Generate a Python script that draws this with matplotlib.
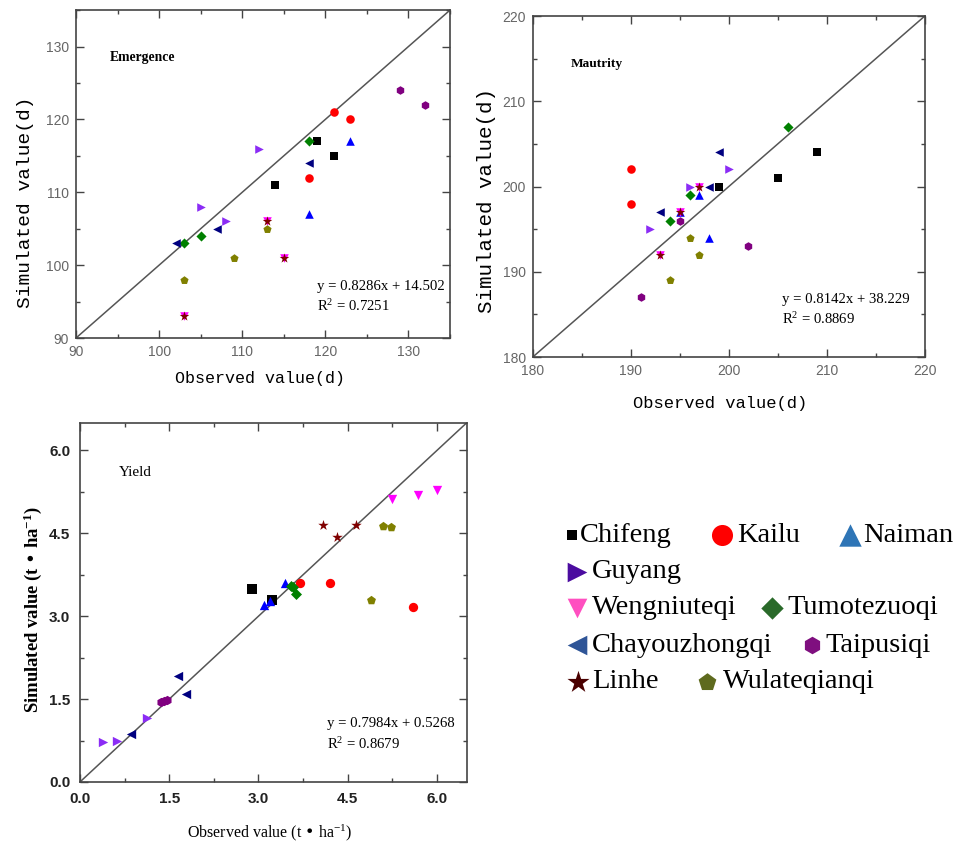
import matplotlib
matplotlib.use("Agg")
import matplotlib.pyplot as plt
from matplotlib.ticker import MultipleLocator, FormatStrFormatter

plt.rcParams['mathtext.default'] = 'regular'

sites = ['Chifeng', 'Kailu', 'Naiman', 'Guyang', 'Wengniuteqi', 'Tumotezuoqi',
         'Chayouzhongqi', 'Taipusiqi', 'Linhe', 'Wulateqianqi']
markers = ['s', 'o', '^', '>', 'v', 'D', '<', 'h', '*', 'p']
colors = ['#000000', '#ff0000', '#0000ff', '#8b2cf5', '#ff00ff', '#008000',
          '#000080', '#800080', '#800000', '#808000']
leg_colors = ['#000000', '#ff0000', '#2e75b6', '#4b0ca0', '#ff4fc0', '#2a6a2a',
              '#2f5597', '#7f0f7f', '#4a0000', '#5e6a1e']

# emergence (d)
emer_obs = [[114, 119, 121], [121, 123, 118], [123, 118], [112, 105, 108],
            [103, 113, 115], [103, 105, 118], [102, 107, 118], [129, 132],
            [103, 113, 115], [103, 109, 113]]
emer_sim = [[111, 117, 115], [121, 120, 112], [117, 107], [116, 108, 106],
            [93, 106, 101], [103, 104, 117], [103, 105, 114], [124, 122],
            [93, 106, 101], [98, 101, 105]]

# maturity (d)
mat_obs = [[199, 205, 209], [190, 190], [197, 198, 195], [192, 196, 200],
           [195, 197, 193], [206, 196, 194], [199, 198, 193], [195, 202, 191],
           [195, 197, 193], [196, 197, 194]]
mat_sim = [[200, 201, 204], [202, 198], [199, 194, 197], [195, 200, 202],
           [197, 200, 192], [207, 199, 196], [204, 200, 197], [196, 193, 187],
           [197, 200, 192], [194, 192, 189]]

# yield (t/ha)
yld_obs = [[2.9, 3.22], [3.7, 4.2, 5.6], [3.1, 3.2, 3.44], [0.38, 0.62, 1.13],
           [5.24, 5.69, 6.0], [3.55, 3.63, 3.58], [1.65, 1.78, 0.86],
           [1.37, 1.46, 1.41], [4.09, 4.32, 4.64], [5.09, 5.23, 4.89]]
yld_sim = [[3.5, 3.3], [3.6, 3.6, 3.17], [3.2, 3.27, 3.6], [0.72, 0.74, 1.15],
           [5.13, 5.2, 5.28], [3.55, 3.4, 3.52], [1.91, 1.6, 0.86],
           [1.44, 1.48, 1.46], [4.66, 4.43, 4.66], [4.64, 4.61, 3.3]]

eqs = ['y = 0.8286x + 14.502\nR$^2$ = 0.7251',
       'y = 0.8142x + 38.229\nR$^2$ = 0.8869',
       'y = 0.7984x + 0.5268\nR$^2$ = 0.8679']

fig = plt.figure(figsize=(9.74, 8.43), dpi=100)


def panel(rect, obs, sim, lim, major, tickcol, ticksize, msize, pad, fmt=None, tw='normal'):
    ax = fig.add_axes(rect)
    for i in range(len(sites)):
        s = msize * 0.7 if markers[i] == 'D' else (msize * 1.4 if markers[i] == '*' else msize)
        ax.scatter(obs[i], sim[i], marker=markers[i], color=colors[i], s=s,
                   linewidths=0, zorder=3)
    ax.plot(lim, lim, color='#555555', lw=1.1, zorder=2)
    ax.set_xlim(lim)
    ax.set_ylim(lim)
    ax.xaxis.set_major_locator(MultipleLocator(major))
    ax.yaxis.set_major_locator(MultipleLocator(major))
    ax.xaxis.set_minor_locator(MultipleLocator(major / 2))
    ax.yaxis.set_minor_locator(MultipleLocator(major / 2))
    ax.tick_params(which='both', direction='in', top=True, right=True,
                   colors='#444444', labelcolor=tickcol, labelsize=ticksize)
    ax.tick_params(which='major', length=6, width=1, pad=pad)
    ax.tick_params(which='minor', length=3, width=1)
    if fmt:
        ax.xaxis.set_major_formatter(fmt)
        ax.yaxis.set_major_formatter(fmt)
    for lab in ax.get_xticklabels() + ax.get_yticklabels():
        lab.set_family('Liberation Sans')
        lab.set_fontweight(tw)
    for sp in ax.spines.values():
        sp.set_color('#444444')
        sp.set_linewidth(1.2)
    return ax


def labels(ax, xl, yl, xpos, ypos, family, xsize, ysize, weight='normal'):
    ax.set_xlabel(xl, family=family, fontsize=xsize)
    ax.set_ylabel(yl, family=family, fontsize=ysize, fontweight=weight)
    ax.xaxis.set_label_coords(*xpos)
    ax.yaxis.set_label_coords(*ypos)
    ax.xaxis.label.set_va('center')
    ax.yaxis.label.set_va('center')


def notes(ax, title, tpos, tweight, tsize, eq, epos):
    ax.text(tpos[0], tpos[1], title, transform=ax.transAxes, family='Liberation Serif',
            fontsize=tsize, fontweight=tweight, va='center')
    ax.text(epos[0], epos[1], eq, transform=ax.transAxes, family='Liberation Serif',
            fontsize=10.6, va='center', linespacing=1.45)


ax1 = panel([0.078, 0.599, 0.384, 0.389], emer_obs, emer_sim, [90, 135], 10,
            '#666666', 10, 38, 5)
labels(ax1, 'Observed value(d)', 'Simulated value(d)', (0.492, -0.122),
       (-0.136, 0.415), 'Liberation Mono', 12, 14)
notes(ax1, 'Emergence', (0.09, 0.857), 'bold', 9.8, eqs[0], (0.644, 0.125))

ax2 = panel([0.547, 0.5765, 0.4025, 0.4045], mat_obs, mat_sim, [180, 220], 10,
            '#666666', 10, 38, 5)
labels(ax2, 'Observed value(d)', 'Simulated value(d)', (0.477, -0.135),
       (-0.117, 0.46), 'Liberation Mono', 12.3, 15)
notes(ax2, 'Mautrity', (0.097, 0.86), 'bold', 9.6, eqs[1], (0.635, 0.138))

ax3 = panel([0.0821, 0.0724, 0.397, 0.426], yld_obs, yld_sim, [0, 6.5], 1.5,
            '#222222', 11, 45, 7, fmt=FormatStrFormatter('%.1f'), tw='bold')
labels(ax3, 'Observed value (t • ha$^{-1}$)', 'Simulated value (t • ha$^{-1}$)',
       (0.49, -0.142), (-0.121, 0.479), 'Liberation Serif', 11.5, 13.4, 'bold')
notes(ax3, 'Yield', (0.10, 0.863), 'normal', 11, eqs[2], (0.638, 0.132))

# legend drawn in pixel coordinates
leg = fig.add_axes([0, 0, 1, 1])
leg.set_xlim(0, 974)
leg.set_ylim(843, 0)
leg.axis('off')
leg_pos = [(572, 535), (722, 535), (850, 535), (577, 572), (577, 608), (772, 608),
           (577, 645), (812, 645), (578, 682), (707, 682)]
leg_size = [55, 230, 260, 200, 200, 130, 200, 160, 280, 180]
leg_text_x = [580, 737, 863, 592, 592, 787, 592, 825, 592, 723]
for i in range(len(sites)):
    x, y = leg_pos[i]
    leg.scatter([x], [y], marker=markers[i], color=leg_colors[i], s=leg_size[i],
                linewidths=0)
    leg.text(leg_text_x[i], y, sites[i], family='Liberation Serif',
             fontsize=20.5, va='center', ha='left')

fig.savefig('out.png', dpi=100)
